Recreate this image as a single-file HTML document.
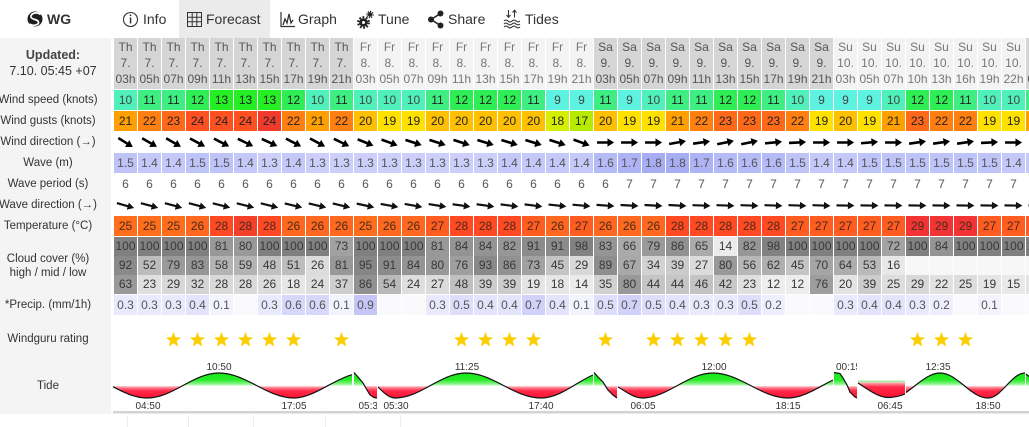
<!DOCTYPE html>
<html><head><meta charset="utf-8">
<style>
*{margin:0;padding:0;box-sizing:border-box}
body{width:1029px;height:427px;overflow:hidden;background:#fff;font-family:"Liberation Sans",Arial,sans-serif;position:relative;color:#333}
.lab{position:absolute;left:0;top:38px;width:111px;height:376px;background:#f4f4f4}
.l{position:absolute;left:-20px;width:136px;text-align:center;font-size:11.5px;color:#333;white-space:nowrap;line-height:16px}
.nv{position:absolute;top:0;line-height:38px;font-size:14px;color:#333;white-space:nowrap}
.r{position:absolute;left:114px;display:flex;white-space:nowrap}
.r i{font-style:normal;flex:0 0 23px;width:23px;margin-right:1px;text-align:center;font-size:12px;color:#222}
.h i{line-height:16px;padding-top:1px;color:#555;background:#d5d5d5}
.h i.f{background:#f3f3f3;color:#777}
.s9{background:#5ef3e1}.s10{background:#50f0bb}.s11{background:#3fee83}.s12{background:#2fee55}.s13{background:#24ee24}
.r i.s9,.r i.s10{color:#444}
.g17{background:#b6ea00}.g18{background:#d6ee00}.g19{background:#ffe100}.g20{background:#ffc000}.g21{background:#ffa000}.g22{background:#ff8010}.g23{background:#ff6a1a}.g24{background:#ff5022}.g24x{background:#f23a2c}
.wv i{color:#555}
.w13{background:#cbcffa}.w14{background:#c4c9f9}.w15{background:#bec3f8}.w16{background:#b5bbf6}.w17{background:#adb3f4}.w18{background:#a6adf2}
.pd i{color:#555}
.t25{background:#ff6e1c}.t26{background:#ff6820}.t27{background:#ff5c22}.t28{background:#ff4a24}.t28x{background:#f3402a}.t29{background:#f23434}
.tp i{color:#4a2a1a}
.cl i{color:#383838}
.pr i{color:#555}
.p0{background:#fafafd}.p1{background:#f3f3fe}.p2{background:#eeeefe}.p3{background:#e9e9fd}.p4{background:#e3e3fc}.p5{background:#dedefc}.p6{background:#d7d7fa}.p7{background:#d1d1f9}.p9{background:#c6c6f6}
svg{position:absolute;left:0;top:0}
</style></head><body>

<div class="lab"></div>

<svg width="1029" height="427" viewBox="0 0 1029 427">
<rect x="179" y="0" width="91" height="38" fill="#ebebeb"/>
</svg>

<div class="nv" style="left:47px;font-weight:bold">WG</div>
<div class="nv" style="left:143px">Info</div>
<div class="nv" style="left:206px">Forecast</div>
<div class="nv" style="left:298px">Graph</div>
<div class="nv" style="left:378px">Tune</div>
<div class="nv" style="left:448px">Share</div>
<div class="nv" style="left:525px">Tides</div>

<div style="position:absolute;left:0;top:47px;width:106px;text-align:center;font-size:12.5px;font-weight:bold;color:#444;line-height:16px">Updated:</div>
<div style="position:absolute;left:0;top:63px;width:106px;text-align:center;font-size:12.5px;color:#333;line-height:16px;white-space:nowrap">7.10. 05:45 +07</div>

<div class="l" style="top:92px">Wind speed (knots)</div>
<div class="l" style="top:113px">Wind gusts (knots)</div>
<div class="l" style="top:134px">Wind direction (→)</div>
<div class="l" style="top:155px">Wave (m)</div>
<div class="l" style="top:176px">Wave period (s)</div>
<div class="l" style="top:197px">Wave direction (→)</div>
<div class="l" style="top:218px">Temperature (°C)</div>
<div class="l" style="top:251px">Cloud cover (%)</div>
<div class="l" style="top:265px">high / mid / low</div>
<div class="l" style="top:297px">*Precip. (mm/1h)</div>
<div class="l" style="top:331px">Windguru rating</div>
<div class="l" style="top:378px">Tide</div>

<div class="r h" style="top:38px;height:51px">
<i>Th<br>7.<br>03h</i><i>Th<br>7.<br>05h</i><i>Th<br>7.<br>07h</i><i>Th<br>7.<br>09h</i><i>Th<br>7.<br>11h</i><i>Th<br>7.<br>13h</i><i>Th<br>7.<br>15h</i><i>Th<br>7.<br>17h</i><i>Th<br>7.<br>19h</i><i>Th<br>7.<br>21h</i>
<i class="f">Fr<br>8.<br>03h</i><i class="f">Fr<br>8.<br>05h</i><i class="f">Fr<br>8.<br>07h</i><i class="f">Fr<br>8.<br>09h</i><i class="f">Fr<br>8.<br>11h</i><i class="f">Fr<br>8.<br>13h</i><i class="f">Fr<br>8.<br>15h</i><i class="f">Fr<br>8.<br>17h</i><i class="f">Fr<br>8.<br>19h</i><i class="f">Fr<br>8.<br>21h</i>
<i>Sa<br>9.<br>03h</i><i>Sa<br>9.<br>05h</i><i>Sa<br>9.<br>07h</i><i>Sa<br>9.<br>09h</i><i>Sa<br>9.<br>11h</i><i>Sa<br>9.<br>13h</i><i>Sa<br>9.<br>15h</i><i>Sa<br>9.<br>17h</i><i>Sa<br>9.<br>19h</i><i>Sa<br>9.<br>21h</i>
<i class="f">Su<br>10.<br>03h</i><i class="f">Su<br>10.<br>05h</i><i class="f">Su<br>10.<br>07h</i><i class="f">Su<br>10.<br>10h</i><i class="f">Su<br>10.<br>13h</i><i class="f">Su<br>10.<br>16h</i><i class="f">Su<br>10.<br>19h</i><i class="f">Su<br>10.<br>22h</i>
<i>Mo<br>11.<br>01h</i>
</div>

<div class="r" style="top:90px;height:20px;line-height:20px">
<i class="s10">10</i><i class="s11">11</i><i class="s11">11</i><i class="s12">12</i><i class="s13">13</i><i class="s13">13</i><i class="s13">13</i><i class="s12">12</i><i class="s10">10</i><i class="s11">11</i>
<i class="s10">10</i><i class="s10">10</i><i class="s10">10</i><i class="s11">11</i><i class="s12">12</i><i class="s12">12</i><i class="s12">12</i><i class="s11">11</i><i class="s9">9</i><i class="s9">9</i>
<i class="s11">11</i><i class="s9">9</i><i class="s10">10</i><i class="s11">11</i><i class="s11">11</i><i class="s12">12</i><i class="s12">12</i><i class="s11">11</i><i class="s10">10</i><i class="s9">9</i>
<i class="s9">9</i><i class="s9">9</i><i class="s10">10</i><i class="s12">12</i><i class="s12">12</i><i class="s11">11</i><i class="s10">10</i><i class="s10">10</i>
<i class="s11">11</i>
</div>

<div class="r" style="top:111px;height:20px;line-height:20px">
<i class="g21">21</i><i class="g22">22</i><i class="g23">23</i><i class="g24">24</i><i class="g24">24</i><i class="g24">24</i><i class="g24x">24</i><i class="g22">22</i><i class="g21">21</i><i class="g22">22</i>
<i class="g20">20</i><i class="g19">19</i><i class="g19">19</i><i class="g20">20</i><i class="g20">20</i><i class="g20">20</i><i class="g20">20</i><i class="g20">20</i><i class="g18">18</i><i class="g17">17</i>
<i class="g20">20</i><i class="g19">19</i><i class="g19">19</i><i class="g21">21</i><i class="g22">22</i><i class="g23">23</i><i class="g23">23</i><i class="g23">23</i><i class="g22">22</i><i class="g19">19</i>
<i class="g20">20</i><i class="g19">19</i><i class="g21">21</i><i class="g23">23</i><i class="g22">22</i><i class="g22">22</i><i class="g19">19</i><i class="g19">19</i>
<i class="g21">21</i>
</div>

<div class="r wv" style="top:153px;height:20px;line-height:20px">
<i class="w15">1.5</i><i class="w14">1.4</i><i class="w14">1.4</i><i class="w15">1.5</i><i class="w15">1.5</i><i class="w14">1.4</i><i class="w13">1.3</i><i class="w14">1.4</i><i class="w13">1.3</i><i class="w13">1.3</i>
<i class="w13">1.3</i><i class="w13">1.3</i><i class="w13">1.3</i><i class="w13">1.3</i><i class="w13">1.3</i><i class="w13">1.3</i><i class="w14">1.4</i><i class="w14">1.4</i><i class="w14">1.4</i><i class="w14">1.4</i>
<i class="w16">1.6</i><i class="w17">1.7</i><i class="w18">1.8</i><i class="w18">1.8</i><i class="w17">1.7</i><i class="w16">1.6</i><i class="w16">1.6</i><i class="w16">1.6</i><i class="w15">1.5</i><i class="w14">1.4</i>
<i class="w14">1.4</i><i class="w15">1.5</i><i class="w15">1.5</i><i class="w15">1.5</i><i class="w15">1.5</i><i class="w15">1.5</i><i class="w15">1.5</i><i class="w14">1.4</i>
<i class="w14">1.4</i>
</div>

<div class="r pd" style="top:174px;height:20px;line-height:20px">
<i>6</i><i>6</i><i>6</i><i>6</i><i>6</i><i>6</i><i>6</i><i>6</i><i>6</i><i>6</i>
<i>6</i><i>6</i><i>6</i><i>6</i><i>6</i><i>6</i><i>6</i><i>6</i><i>6</i><i>6</i>
<i>6</i><i>7</i><i>7</i><i>7</i><i>7</i><i>7</i><i>7</i><i>7</i><i>7</i><i>7</i>
<i>7</i><i>7</i><i>7</i><i>7</i><i>7</i><i>7</i><i>7</i><i>7</i><i>7</i>
</div>

<div class="r tp" style="top:216px;height:20px;line-height:20px">
<i class="t25">25</i><i class="t25">25</i><i class="t25">25</i><i class="t26">26</i><i class="t28">28</i><i class="t28x">28</i><i class="t28">28</i><i class="t26">26</i><i class="t26">26</i><i class="t26">26</i>
<i class="t25">25</i><i class="t26">26</i><i class="t26">26</i><i class="t27">27</i><i class="t28">28</i><i class="t28">28</i><i class="t28">28</i><i class="t27">27</i><i class="t26">26</i><i class="t27">27</i>
<i class="t26">26</i><i class="t26">26</i><i class="t26">26</i><i class="t28">28</i><i class="t28">28</i><i class="t28">28</i><i class="t28">28</i><i class="t28">28</i><i class="t27">27</i><i class="t27">27</i>
<i class="t27">27</i><i class="t27">27</i><i class="t27">27</i><i class="t29">29</i><i class="t29">29</i><i class="t29">29</i><i class="t27">27</i><i class="t27">27</i>
<i class="t27">27</i>
</div>

<div class="r cl" style="top:237px;height:19px;line-height:19px">
<i style="background:#808080">100</i><i style="background:#808080">100</i><i style="background:#808080">100</i><i style="background:#808080">100</i><i style="background:#989898">81</i><i style="background:#999">80</i><i style="background:#808080">100</i><i style="background:#808080">100</i><i style="background:#808080">100</i><i style="background:#a1a1a1">73</i>
<i style="background:#808080">100</i><i style="background:#808080">100</i><i style="background:#808080">100</i><i style="background:#989898">81</i><i style="background:#949494">84</i><i style="background:#949494">84</i><i style="background:#969696">82</i><i style="background:#8b8b8b">91</i><i style="background:#8b8b8b">91</i><i style="background:#828282">98</i>
<i style="background:#959595">83</i><i style="background:#aaa">66</i><i style="background:#9a9a9a">79</i><i style="background:#919191">86</i><i style="background:#ababab">65</i><i style="background:#ebebeb">14</i><i style="background:#969696">82</i><i style="background:#828282">98</i><i style="background:#808080">100</i><i style="background:#808080">100</i>
<i style="background:#808080">100</i><i style="background:#808080">100</i><i style="background:#a3a3a3">72</i><i style="background:#808080">100</i><i style="background:#949494">84</i><i style="background:#808080">100</i><i style="background:#808080">100</i><i style="background:#808080">100</i>
<i style="background:#808080">100</i>
</div>

<div class="r cl" style="top:256px;height:19px;line-height:19px">
<i style="background:#8a8a8a">92</i><i style="background:#bcbcbc">52</i><i style="background:#9a9a9a">79</i><i style="background:#959595">83</i><i style="background:#b4b4b4">58</i><i style="background:#b3b3b3">59</i><i style="background:#c0c0c0">48</i><i style="background:#bdbdbd">51</i><i style="background:#dcdcdc">26</i><i style="background:#989898">81</i>
<i style="background:#868686">95</i><i style="background:#8b8b8b">91</i><i style="background:#949494">84</i><i style="background:#999">80</i><i style="background:#9e9e9e">76</i><i style="background:#898989">93</i><i style="background:#919191">86</i><i style="background:#a1a1a1">73</i><i style="background:#c4c4c4">45</i><i style="background:#d8d8d8">29</i>
<i style="background:#8e8e8e">89</i><i style="background:#a9a9a9">67</i><i style="background:#d2d2d2">34</i><i style="background:#ccc">39</i><i style="background:#dbdbdb">27</i><i style="background:#999">80</i><i style="background:#b7b7b7">56</i><i style="background:#afafaf">62</i><i style="background:#c4c4c4">45</i><i style="background:#a5a5a5">70</i>
<i style="background:#adadad">64</i><i style="background:#bababa">53</i><i style="background:#e8e8e8">16</i><i style="background:#f7f7f7"></i><i style="background:#f7f7f7"></i><i style="background:#f7f7f7"></i><i style="background:#f7f7f7"></i><i style="background:#f7f7f7"></i>
<i style="background:#f7f7f7"></i>
</div>

<div class="r cl" style="top:275px;height:19px;line-height:19px">
<i style="background:#9a9a9a">63</i><i style="background:#dfdfdf">23</i><i style="background:#d8d8d8">29</i><i style="background:#d4d4d4">32</i><i style="background:#d9d9d9">28</i><i style="background:#d9d9d9">28</i><i style="background:#dcdcdc">26</i><i style="background:#e6e6e6">18</i><i style="background:#dedede">24</i><i style="background:#cecece">37</i>
<i style="background:#919191">86</i><i style="background:#b9b9b9">54</i><i style="background:#dedede">24</i><i style="background:#dbdbdb">27</i><i style="background:#c0c0c0">48</i><i style="background:#ccc">39</i><i style="background:#ccc">39</i><i style="background:#e4e4e4">19</i><i style="background:#e6e6e6">18</i><i style="background:#ebebeb">14</i>
<i style="background:#d1d1d1">35</i><i style="background:#999">80</i><i style="background:#c5c5c5">44</i><i style="background:#c5c5c5">44</i><i style="background:#c3c3c3">46</i><i style="background:#c8c8c8">42</i><i style="background:#dfdfdf">23</i><i style="background:#ededed">12</i><i style="background:#ededed">12</i><i style="background:#9e9e9e">76</i>
<i style="background:#e3e3e3">20</i><i style="background:#ccc">39</i><i style="background:#ddd">25</i><i style="background:#d8d8d8">29</i><i style="background:#e1e1e1">22</i><i style="background:#ddd">25</i><i style="background:#e4e4e4">19</i><i style="background:#e9e9e9">15</i>
<i style="background:#e3e3e3">20</i>
</div>

<div class="r pr" style="top:295px;height:20px;line-height:20px">
<i class="p3">0.3</i><i class="p3">0.3</i><i class="p3">0.3</i><i class="p4">0.4</i><i class="p1">0.1</i><i class="p0"></i><i class="p3">0.3</i><i class="p6">0.6</i><i class="p6">0.6</i><i class="p1">0.1</i>
<i class="p9">0.9</i><i class="p0"></i><i class="p0"></i><i class="p3">0.3</i><i class="p5">0.5</i><i class="p4">0.4</i><i class="p4">0.4</i><i class="p7">0.7</i><i class="p4">0.4</i><i class="p1">0.1</i>
<i class="p5">0.5</i><i class="p7">0.7</i><i class="p5">0.5</i><i class="p4">0.4</i><i class="p3">0.3</i><i class="p3">0.3</i><i class="p5">0.5</i><i class="p2">0.2</i><i class="p0"></i><i class="p0"></i>
<i class="p3">0.3</i><i class="p4">0.4</i><i class="p4">0.4</i><i class="p3">0.3</i><i class="p2">0.2</i><i class="p0"></i><i class="p1">0.1</i><i class="p0"></i>
<i class="p0"></i>
</div>

<svg width="1029" height="427" viewBox="0 0 1029 427">
<defs>
<path id="a" d="M-8.5,-1.3H2V-4.1L8.6,0L2,4.1V1.3H-8.5Z" fill="#000"/>
<path id="b" d="M-9,-1.1H2.4V-3.7L9,0L2.4,3.7V1.1H-9Z" fill="#111"/>
<path id="st" d="M0,-8L2,-2.75L7.61,-2.47L3.23,1.05L4.7,6.47L0,3.4L-4.7,6.47L-3.23,1.05L-7.61,-2.47L-2,-2.75Z" fill="#fcce00"/>
<linearGradient id="tg" x1="0" y1="372" x2="0" y2="399" gradientUnits="userSpaceOnUse">
<stop offset="0" stop-color="#14e614"/>
<stop offset="0.3" stop-color="#2aec2a"/>
<stop offset="0.45" stop-color="#8ff48f"/>
<stop offset="0.515" stop-color="#eaffea"/>
<stop offset="0.52" stop-color="#ffd0d4"/>
<stop offset="0.6" stop-color="#ff7080"/>
<stop offset="0.7" stop-color="#ff2a48"/>
<stop offset="1" stop-color="#ff0f30"/>
</linearGradient>
<linearGradient id="tg2" x1="0" y1="382" x2="0" y2="399" gradientUnits="userSpaceOnUse">
<stop offset="0" stop-color="#ffd0d4"/>
<stop offset="0.15" stop-color="#ff7080"/>
<stop offset="0.3" stop-color="#ff2a48"/>
<stop offset="1" stop-color="#ff0f30"/>
</linearGradient>
<clipPath id="c1"><rect x="354" y="395" width="23" height="20"/></clipPath>
<clipPath id="c2"><rect x="834" y="355" width="23" height="20"/></clipPath>
</defs>

<!-- nav icons -->
<circle cx="35" cy="19" r="7.5" fill="#1e1e1e"/>
<path d="M40.5,14.5 C37,11.5 30.5,13 31,17 C31.5,20 38,19 38.5,22 C39,25 33,26.5 29.5,24" stroke="#fff" stroke-width="1.7" fill="none"/>
<circle cx="130.5" cy="19.5" r="7" stroke="#333" stroke-width="1.1" fill="none"/>
<rect x="129.8" y="17.5" width="1.5" height="6" fill="#333"/><circle cx="130.5" cy="15.3" r="0.9" fill="#333"/>
<g stroke="#333" stroke-width="1" fill="none"><rect x="187.5" y="12.5" width="14" height="14"/><path d="M192.2,12.5V26.5M196.8,12.5V26.5M187.5,17.2H201.5M187.5,21.8H201.5"/></g>
<g stroke="#333" fill="none"><path d="M281,12V26.5H295" stroke-width="1.2"/><path d="M283,25L285,19L287,23L289,14L291,23L293,20" stroke-width="1.3"/></g>
<circle cx="363.5" cy="22.5" r="4.3" fill="#222"/><circle cx="363.5" cy="22.5" r="5.3" stroke="#222" stroke-width="2.2" stroke-dasharray="1.8 1.6" fill="none"/><circle cx="363.5" cy="22.5" r="1.5" fill="#fff"/>
<circle cx="370" cy="14.5" r="2.2" fill="#222"/><circle cx="370" cy="14.5" r="3" stroke="#222" stroke-width="1.4" stroke-dasharray="1.2 1.1" fill="none"/>
<g fill="#222"><circle cx="431" cy="19.5" r="3"/><circle cx="440.5" cy="13.5" r="3"/><circle cx="440.5" cy="25.5" r="3"/></g>
<path d="M431,19.5L440.5,13.5M431,19.5L440.5,25.5" stroke="#222" stroke-width="1.6"/>
<g stroke="#333" stroke-width="1.1" fill="none"><path d="M508.5,10V17M506.5,15L508.5,17.3L510.5,15M514.5,17.5V10.5M512.5,12.5L514.5,10.2L516.5,12.5"/><path d="M504,21q2,-1.8 4,0t4,0t4,0t4,0M504,24q2,-1.8 4,0t4,0t4,0t4,0M504,27q2,-1.8 4,0t4,0t4,0t4,0"/></g>

<!-- wind direction arrows -->
<g>
<use href="#a" transform="translate(125.5,142.5) rotate(32)"/><use href="#a" transform="translate(149.5,142.5) rotate(30)"/><use href="#a" transform="translate(173.5,142.5) rotate(30)"/><use href="#a" transform="translate(197.5,142.5) rotate(28)"/><use href="#a" transform="translate(221.5,142.5) rotate(27)"/><use href="#a" transform="translate(245.5,142.5) rotate(26)"/><use href="#a" transform="translate(269.5,142.5) rotate(25)"/><use href="#a" transform="translate(293.5,142.5) rotate(27)"/><use href="#a" transform="translate(317.5,142.5) rotate(28)"/><use href="#a" transform="translate(341.5,142.5) rotate(26)"/>
<use href="#a" transform="translate(365.5,142.5) rotate(22)"/><use href="#a" transform="translate(389.5,142.5) rotate(20)"/><use href="#a" transform="translate(413.5,142.5) rotate(18)"/><use href="#a" transform="translate(437.5,142.5) rotate(18)"/><use href="#a" transform="translate(461.5,142.5) rotate(18)"/><use href="#a" transform="translate(485.5,142.5) rotate(17)"/><use href="#a" transform="translate(509.5,142.5) rotate(17)"/><use href="#a" transform="translate(533.5,142.5) rotate(17)"/><use href="#a" transform="translate(557.5,142.5) rotate(18)"/><use href="#a" transform="translate(581.5,142.5) rotate(20)"/>
<use href="#a" transform="translate(605.5,142.5) rotate(0)"/><use href="#a" transform="translate(629.5,142.5) rotate(0)"/><use href="#a" transform="translate(653.5,142.5) rotate(0)"/><use href="#a" transform="translate(677.5,142.5) rotate(-10)"/><use href="#a" transform="translate(701.5,142.5) rotate(-8)"/><use href="#a" transform="translate(725.5,142.5) rotate(-12)"/><use href="#a" transform="translate(749.5,142.5) rotate(-12)"/><use href="#a" transform="translate(773.5,142.5) rotate(-6)"/><use href="#a" transform="translate(797.5,142.5) rotate(-3)"/><use href="#a" transform="translate(821.5,142.5) rotate(0)"/>
<use href="#a" transform="translate(845.5,142.5) rotate(0)"/><use href="#a" transform="translate(869.5,142.5) rotate(-5)"/><use href="#a" transform="translate(893.5,142.5) rotate(0)"/><use href="#a" transform="translate(917.5,142.5) rotate(-8)"/><use href="#a" transform="translate(941.5,142.5) rotate(-8)"/><use href="#a" transform="translate(965.5,142.5) rotate(-8)"/><use href="#a" transform="translate(989.5,142.5) rotate(-3)"/><use href="#a" transform="translate(1013.5,142.5) rotate(0)"/><use href="#a" transform="translate(1037.5,142.5) rotate(0)"/>
</g>

<!-- wave direction arrows -->
<g>
<use href="#b" transform="translate(125.5,205.5) rotate(16)"/><use href="#b" transform="translate(149.5,205.5) rotate(15)"/><use href="#b" transform="translate(173.5,205.5) rotate(15)"/><use href="#b" transform="translate(197.5,205.5) rotate(15)"/><use href="#b" transform="translate(221.5,205.5) rotate(14)"/><use href="#b" transform="translate(245.5,205.5) rotate(14)"/><use href="#b" transform="translate(269.5,205.5) rotate(14)"/><use href="#b" transform="translate(293.5,205.5) rotate(13)"/><use href="#b" transform="translate(317.5,205.5) rotate(13)"/><use href="#b" transform="translate(341.5,205.5) rotate(13)"/>
<use href="#b" transform="translate(365.5,205.5) rotate(12)"/><use href="#b" transform="translate(389.5,205.5) rotate(10)"/><use href="#b" transform="translate(413.5,205.5) rotate(10)"/><use href="#b" transform="translate(437.5,205.5) rotate(9)"/><use href="#b" transform="translate(461.5,205.5) rotate(8)"/><use href="#b" transform="translate(485.5,205.5) rotate(8)"/><use href="#b" transform="translate(509.5,205.5) rotate(7)"/><use href="#b" transform="translate(533.5,205.5) rotate(7)"/><use href="#b" transform="translate(557.5,205.5) rotate(6)"/><use href="#b" transform="translate(581.5,205.5) rotate(5)"/>
<use href="#b" transform="translate(605.5,205.5) rotate(4)"/><use href="#b" transform="translate(629.5,205.5) rotate(3)"/><use href="#b" transform="translate(653.5,205.5) rotate(3)"/><use href="#b" transform="translate(677.5,205.5) rotate(3)"/><use href="#b" transform="translate(701.5,205.5) rotate(2)"/><use href="#b" transform="translate(725.5,205.5) rotate(2)"/><use href="#b" transform="translate(749.5,205.5) rotate(2)"/><use href="#b" transform="translate(773.5,205.5) rotate(2)"/><use href="#b" transform="translate(797.5,205.5) rotate(2)"/><use href="#b" transform="translate(821.5,205.5) rotate(2)"/>
<use href="#b" transform="translate(845.5,205.5) rotate(1)"/><use href="#b" transform="translate(869.5,205.5) rotate(1)"/><use href="#b" transform="translate(893.5,205.5) rotate(1)"/><use href="#b" transform="translate(917.5,205.5) rotate(1)"/><use href="#b" transform="translate(941.5,205.5) rotate(1)"/><use href="#b" transform="translate(965.5,205.5) rotate(1)"/><use href="#b" transform="translate(989.5,205.5) rotate(1)"/><use href="#b" transform="translate(1013.5,205.5) rotate(1)"/><use href="#b" transform="translate(1037.5,205.5) rotate(1)"/>
</g>

<!-- stars -->
<g>
<use href="#st" transform="translate(173.5,340)"/><use href="#st" transform="translate(197.5,340)"/><use href="#st" transform="translate(221.5,340)"/><use href="#st" transform="translate(245.5,340)"/><use href="#st" transform="translate(269.5,340)"/><use href="#st" transform="translate(293.5,340)"/><use href="#st" transform="translate(341.5,340)"/>
<use href="#st" transform="translate(461.5,340)"/><use href="#st" transform="translate(485.5,340)"/><use href="#st" transform="translate(509.5,340)"/><use href="#st" transform="translate(533.5,340)"/>
<use href="#st" transform="translate(605.5,340)"/><use href="#st" transform="translate(653.5,340)"/><use href="#st" transform="translate(677.5,340)"/><use href="#st" transform="translate(701.5,340)"/><use href="#st" transform="translate(725.5,340)"/><use href="#st" transform="translate(749.5,340)"/>
<use href="#st" transform="translate(917.5,340)"/><use href="#st" transform="translate(941.5,340)"/><use href="#st" transform="translate(965.5,340)"/>
</g>

<!-- tide fills -->
<g fill="url(#tg)">
<path d="M113,386.7 C124.3,392.8 135.7,398 147,398 C173.2,398 192.8,373 219,373 C246.3,373 266.7,398 294,398 C313,398 333,379.9 352,374.7 L352,386 L113,386 Z"/>
<path d="M354,372.5 L358,377 L363,383 L367,390 L370,395 L374,397.5 L377,398 L377,386 L354,386 Z"/>
<path d="M378,387 C383,392 389,398 395,398 C420.8,398 440.2,373 466,373 C493.3,373 513.7,398 541,398 C560,398 575.7,382.3 593,375 L593,386 L378,386 Z"/>
<path d="M594,372.5 L598,377 L603,382 L608,390 L613,395 L617,398 L617,386 L594,386 Z"/>
<path d="M618,387 C626,391.4 634,398 642,398 C667.8,398 687.2,373 713,373 C740.3,373 760.7,398 788,398 C803,398 818,387.5 833,380 L833,386 L618,386 Z"/>
<path d="M834,372.5 L840,373.5 L843,378 L847,385 L850,392 L855,397 L857,398 L857,386 L834,386 Z"/>
<path d="M906,392.5 C917,385 928,373 940,373 C957.5,373 970.5,398 988,398 C1001.5,398 1011.5,373 1025,373 L1025,386 L906,386 Z"/>
<rect x="1026" y="375" width="3" height="11"/>
</g>
<path d="M858,383 C866,388 878,397.5 888,397.5 C895,397.5 900,396 905,394 L905,382 L858,382 Z" fill="url(#tg2)"/>
<rect x="858" y="380.5" width="47" height="1.7" fill="#a6eea6"/>

<!-- tide lines -->
<g stroke="#111" stroke-width="1.2" fill="none">
<path d="M113,386.7 C124.3,392.8 135.7,398 147,398 C173.2,398 192.8,373 219,373 C246.3,373 266.7,398 294,398 C313,398 333,379.9 352,374.7"/>
<path d="M354,372.5 L358,377 L363,383 L367,390 L370,395 L374,397.5 L377,398"/>
<path d="M378,387 C383,392 389,398 395,398 C420.8,398 440.2,373 466,373 C493.3,373 513.7,398 541,398 C560,398 575.7,382.3 593,375"/>
<path d="M594,372.5 L598,377 L603,382 L608,390 L613,395 L617,398"/>
<path d="M618,387 C626,391.4 634,398 642,398 C667.8,398 687.2,373 713,373 C740.3,373 760.7,398 788,398 C803,398 818,387.5 833,380"/>
<path d="M834,372.5 L840,373.5 L843,378 L847,385 L850,392 L855,397 L857,398"/>
<path d="M858,383 C866,388 878,397.5 888,397.5 C895,397.5 900,396 905,394"/>
<path d="M906,392.5 C917,385 928,373 940,373 C957.5,373 970.5,398 988,398 C1001.5,398 1011.5,373 1025,373"/>
<path d="M1026,374 L1029,376.5"/>
</g>

<!-- tide labels -->
<g font-family="Liberation Sans, Arial, sans-serif" font-size="10" fill="#333" text-anchor="middle">
<text x="219" y="370">10:50</text><text x="467" y="370">11:25</text><text x="714" y="370">12:00</text><text x="938" y="370">12:35</text>
<text x="148" y="409">04:50</text><text x="294" y="409">17:05</text><text x="396" y="409">05:30</text><text x="541" y="409">17:40</text>
<text x="643" y="409">06:05</text><text x="788" y="409">18:15</text><text x="890" y="409">06:45</text><text x="988" y="409">18:50</text>
<text x="371" y="409" clip-path="url(#c1)">05:30</text>
<text x="836" y="370" text-anchor="start" clip-path="url(#c2)">00:15</text>
</g>

<rect x="113" y="411" width="916" height="2.5" fill="#d3d3d3"/>
<g stroke="#eeeeee" stroke-width="1"><path d="M127.5,415V427M188.5,415V427M253.5,415V427M325.5,415V427M400.5,415V427"/></g>
</svg>

</body></html>
